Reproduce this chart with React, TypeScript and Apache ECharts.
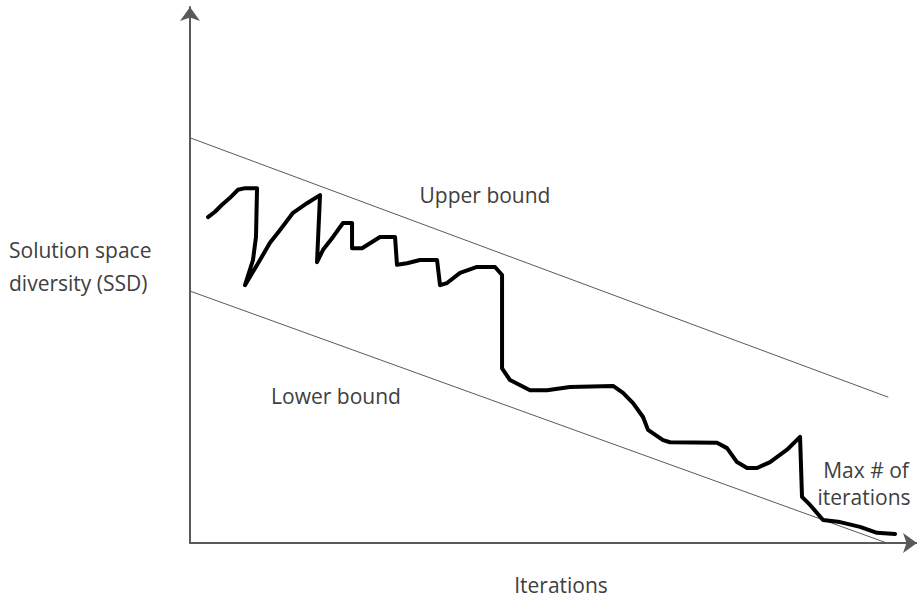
import React, { useEffect, useRef } from "react";
import * as echarts from "echarts";

// Iterations (x) and solution space diversity (y), in chart units
const upperBound: [number, number][] = [[0, 75.6], [99.9, 27.2]];
const lowerBound: [number, number][] = [[0, 47.0], [99.7, 0]];

const ssdIter: number[] = [
  2.58, 3.58, 4.58, 5.72, 6.87, 7.87, 9.59, 9.44, 9.01, 7.87,
  10.01, 11.44, 12.88, 14.74, 16.74, 18.6, 18.17, 19.03, 20.46, 21.89,
  23.18, 23.18, 24.61, 27.18, 29.33, 29.61, 31.04, 32.9, 35.34, 35.77,
  36.77, 38.63, 41.06, 43.63, 44.64, 44.64, 45.78, 48.64, 51.07, 54.36,
  60.52, 61.95, 63.38, 64.81, 65.52, 67.67, 68.67, 75.39, 76.82, 78.25,
  79.69, 81.12, 82.98, 85.41, 87.27, 87.55, 88.7, 90.56, 92.99, 95.85,
  98.28, 100.86,
];
const ssdValue: number[] = [
  60.8, 61.8, 63.1, 64.4, 65.9, 66.2, 66.2, 57.1, 52.8, 48.1,
  52.8, 56.0, 58.4, 61.6, 63.4, 64.9, 52.4, 54.7, 57.1, 59.7,
  59.7, 55.0, 55.0, 57.1, 57.1, 51.9, 52.2, 52.8, 52.8, 48.1,
  48.5, 50.4, 51.5, 51.5, 50.0, 32.6, 30.4, 28.5, 28.5, 29.1,
  29.3, 28.0, 26.1, 23.5, 21.1, 19.2, 18.8, 18.7, 17.7, 15.1,
  14.0, 14.0, 15.1, 17.4, 19.8, 8.6, 7.1, 4.3, 3.9, 3.0,
  1.9, 1.7,
];

const yTitle = ["Solution space", "diversity (SSD)"];
const xTitle = "Iterations";
const upperLabel = "Upper bound";
const lowerLabel = "Lower bound";
const maxLabel = ["Max # of", "iterations"];

const FONT = '21px "Open Sans"';
const TEXT_COLOR = "#404040";

export default function App() {
  const ref = useRef<HTMLDivElement>(null);
  useEffect(() => {
    if (!ref.current) return;
    const chart = echarts.init(ref.current, undefined, { renderer: "svg" });
    const curve = ssdIter.map((x, i) => [x, ssdValue[i]]);
    const axisLine = {
      show: true,
      symbol: ["none", "arrow"],
      symbolSize: [15, 14],
      lineStyle: { color: "#5a5a5a", width: 2 },
    };
    const txt = (text: string, x: number, y: number, align = "center") => ({
      type: "text",
      x,
      y,
      style: {
        text,
        font: FONT,
        fill: TEXT_COLOR,
        textAlign: align,
        textVerticalAlign: "middle",
      },
    });
    chart.setOption({
      animation: false,
      backgroundColor: "#ffffff",
      grid: { left: 190, right: 0, top: 7, bottom: 57 },
      xAxis: {
        type: "value",
        min: 0,
        max: 104,
        axisLine,
        axisTick: { show: false },
        axisLabel: { show: false },
        splitLine: { show: false },
      },
      yAxis: {
        type: "value",
        min: 0,
        max: 100,
        axisLine,
        axisTick: { show: false },
        axisLabel: { show: false },
        splitLine: { show: false },
      },
      series: [
        {
          type: "line",
          data: upperBound,
          symbol: "none",
          lineStyle: { color: "#5a5a5a", width: 1 },
          silent: true,
        },
        {
          type: "line",
          data: lowerBound,
          symbol: "none",
          lineStyle: { color: "#5a5a5a", width: 1 },
          silent: true,
        },
        {
          type: "line",
          data: curve,
          symbol: "none",
          lineStyle: { color: "#000000", width: 4, join: "round", cap: "round" },
          silent: true,
        },
      ],
      graphic: [
        txt(yTitle[0], 9, 250, "left"),
        txt(yTitle[1], 9, 283, "left"),
        txt(upperLabel, 485, 195),
        txt(lowerLabel, 336, 396),
        txt(maxLabel[0], 866, 470),
        txt(maxLabel[1], 864, 497),
        txt(xTitle, 561, 585),
      ],
    });
    return () => chart.dispose();
  }, []);
  return (
    <div
      ref={ref}
      style={{ position: "fixed", left: 0, top: 0, width: 917, height: 600, background: "#fff" }}
    />
  );
}
